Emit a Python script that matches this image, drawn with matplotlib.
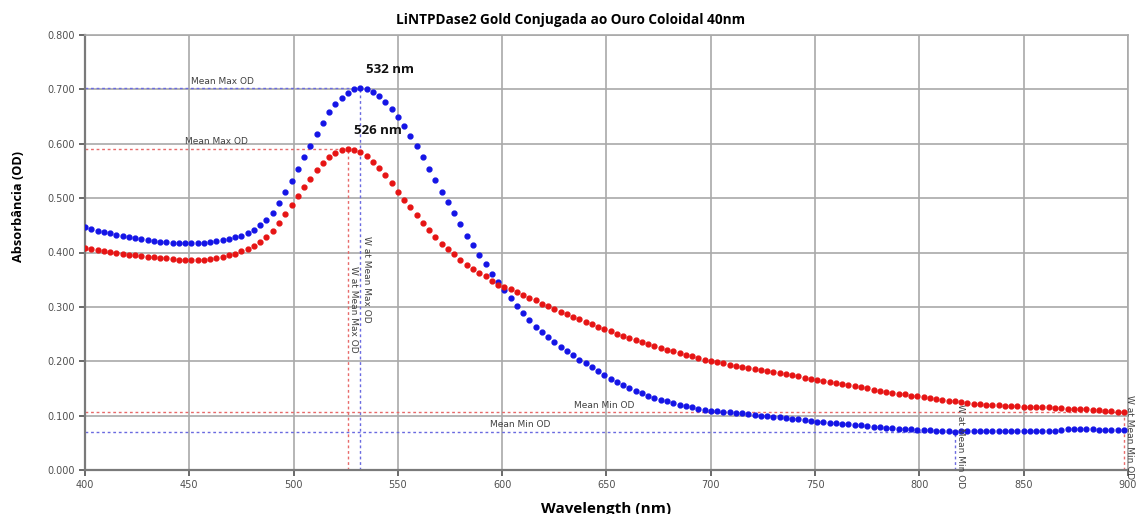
import numpy as np
import matplotlib
matplotlib.use("Agg")
import matplotlib.pyplot as plt

# wavelengths every 3 nm (400 .. 898)
wavelength = np.arange(400, 900, 3)

blue_od = [
    0.446, 0.444, 0.440, 0.437, 0.435, 0.432, 0.430, 0.428, 0.426, 0.424,
    0.423, 0.421, 0.420, 0.419, 0.418, 0.418, 0.417, 0.417, 0.417, 0.418,
    0.419, 0.421, 0.423, 0.425, 0.428, 0.431, 0.436, 0.442, 0.450, 0.460,
    0.473, 0.491, 0.511,
    0.532, 0.553, 0.575, 0.596, 0.618, 0.639, 0.658, 0.673, 0.685, 0.694,
    0.700, 0.703, 0.700, 0.696, 0.688, 0.677, 0.663, 0.649, 0.633, 0.614,
    0.595, 0.575, 0.554, 0.533, 0.511, 0.492, 0.472, 0.452, 0.431, 0.413,
    0.395, 0.379, 0.360, 0.346,
    0.331, 0.316, 0.301, 0.288, 0.275, 0.263, 0.253, 0.244, 0.235, 0.227,
    0.219, 0.211, 0.203, 0.196, 0.189, 0.182, 0.175, 0.168, 0.162, 0.156,
    0.151, 0.146, 0.141, 0.137, 0.133, 0.129, 0.126, 0.123, 0.120, 0.117,
    0.115, 0.113, 0.111, 0.109,
    0.108, 0.107, 0.106, 0.105, 0.104, 0.103, 0.101, 0.100, 0.099, 0.098,
    0.097, 0.096, 0.094, 0.093, 0.092, 0.090, 0.089, 0.088, 0.087, 0.086,
    0.085, 0.084, 0.083, 0.082, 0.081, 0.080, 0.079, 0.078, 0.077, 0.076,
    0.076, 0.075, 0.074, 0.074, 0.073, 0.072, 0.072, 0.071, 0.0705, 0.071,
    0.071, 0.071, 0.071, 0.071, 0.071, 0.071, 0.071, 0.071, 0.071, 0.071,
    0.071, 0.071, 0.071, 0.072, 0.072, 0.074, 0.075, 0.076, 0.076, 0.075,
    0.075, 0.074, 0.073, 0.073, 0.073, 0.074,
]

red_od = [
    0.408, 0.407, 0.405, 0.403, 0.401, 0.400, 0.398, 0.396, 0.395, 0.393,
    0.392, 0.391, 0.390, 0.389, 0.388, 0.387, 0.387, 0.386, 0.386, 0.387,
    0.388, 0.390, 0.392, 0.395, 0.398, 0.402, 0.406, 0.412, 0.420, 0.429,
    0.440, 0.454, 0.470,
    0.487, 0.503, 0.520, 0.536, 0.552, 0.565, 0.576, 0.583, 0.588, 0.591,
    0.589, 0.585, 0.577, 0.567, 0.555, 0.543, 0.527, 0.512, 0.497, 0.484,
    0.469, 0.455, 0.441, 0.429, 0.416, 0.406, 0.397, 0.386, 0.377, 0.370,
    0.362, 0.356, 0.348, 0.341,
    0.337, 0.332, 0.327, 0.322, 0.317, 0.312, 0.306, 0.301, 0.296, 0.291,
    0.286, 0.281, 0.277, 0.272, 0.268, 0.263, 0.259, 0.255, 0.251, 0.247,
    0.243, 0.239, 0.235, 0.232, 0.228, 0.225, 0.221, 0.218, 0.215, 0.212,
    0.209, 0.206, 0.203, 0.201,
    0.198, 0.196, 0.194, 0.192, 0.190, 0.188, 0.186, 0.184, 0.182, 0.180,
    0.178, 0.176, 0.174, 0.172, 0.170, 0.168, 0.166, 0.164, 0.162, 0.160,
    0.158, 0.156, 0.154, 0.152, 0.150, 0.148, 0.146, 0.144, 0.142, 0.140,
    0.139, 0.137, 0.136, 0.134, 0.132, 0.131, 0.129, 0.127, 0.126, 0.125,
    0.123, 0.122, 0.121, 0.120, 0.120, 0.119, 0.118, 0.118, 0.117, 0.116,
    0.116, 0.115, 0.115, 0.115, 0.114, 0.114, 0.113, 0.113, 0.112, 0.112,
    0.111, 0.110, 0.109, 0.108, 0.107, 0.106,
]

x_ticks = list(range(400, 901, 50))
y_ticks = [0.0, 0.1, 0.2, 0.3, 0.4, 0.5, 0.6, 0.7, 0.8]

series = [
    (np.array(blue_od), "#1414e6", "#6a6ae0"),
    (np.array(red_od), "#e61414", "#e86a6a"),
]

fig = plt.figure(figsize=(11.42, 5.14), dpi=100)
ax = fig.add_axes([85 / 1142, 1 - 470 / 514, (1128 - 85) / 1142, (470 - 35) / 514])

ax.set_xlim(400, 900)
ax.set_ylim(0, 0.8)
ax.set_xticks(x_ticks)
ax.set_yticks(y_ticks)
ax.set_yticklabels([f"{v:.3f}" for v in y_ticks])
ax.grid(True, color="#a9a9a9", linewidth=1.2)
ax.set_axisbelow(True)
for s in ax.spines.values():
    s.set_color("#a9a9a9")
    s.set_linewidth(1.2)
ax.spines["left"].set_color("#7a7a7a")
ax.spines["bottom"].set_color("#7a7a7a")
ax.spines["left"].set_linewidth(1.6)
ax.spines["bottom"].set_linewidth(1.6)
ax.tick_params(axis="both", labelsize=7, colors="#505050", length=4, width=1.2)

small = dict(fontsize=6.5, color="#404040", family="DejaVu Sans")

for od, dot_col, line_col in series:
    ax.plot(wavelength, od, linestyle="none", marker="o", markersize=3.5,
            color=dot_col, zorder=3)

    i_max = int(np.argmax(od))
    i_min = int(np.argmin(od))
    x_max, y_max = wavelength[i_max], od[i_max]
    x_min, y_min = wavelength[i_min], od[i_min]

    # mean max / mean min reference lines
    ax.plot([400, x_max], [y_max, y_max], color=line_col, lw=1, ls=(0, (2, 2)), zorder=2)
    ax.plot([x_max, x_max], [0, y_max], color=line_col, lw=1, ls=(0, (2, 2)), zorder=2)
    ax.plot([400, x_min], [y_min, y_min], color=line_col, lw=1, ls=(0, (2, 2)), zorder=2)
    ax.plot([x_min, x_min], [0, y_min], color=line_col, lw=1, ls=(0, (2, 2)), zorder=2)

    ax.text((400 + x_max) / 2, y_max + 0.004, "Mean Max OD", ha="center", va="bottom", **small)
    ax.text((400 + x_min) / 2, y_min + 0.004, "Mean Min OD", ha="center", va="bottom", **small)
    ax.text(x_max + 0.6, y_max / 2, "W at Mean Max OD", rotation=-90,
            ha="left", va="center", **small)
    ax.text(x_min + 0.6, y_min / 2 + 0.008, "W at Mean Min OD", rotation=-90,
            ha="left", va="center", clip_on=False, **small)

    ax.annotate(f"{x_max} nm", (x_max, y_max), xytext=(30, 18),
                textcoords="offset pixels", ha="center", va="center",
                fontsize=9.5, fontweight="bold", family="Open Sans", color="#111111")

ax.set_title("LiNTPDase2 Gold Conjugada ao Ouro Coloidal 40nm", fontsize=9.8,
             fontweight="bold", family="Open Sans", pad=8, x=(571 - 85) / 1043)
ax.set_xlabel("Wavelength (nm)", fontsize=11, fontweight="bold", family="Open Sans", labelpad=8)
ax.set_ylabel("Absorbância (OD)", fontsize=9.2, fontweight="bold", family="Open Sans")
ax.yaxis.set_label_coords(-0.058, (470 - 206) / 435)

fig.savefig("out.png", dpi=100)
